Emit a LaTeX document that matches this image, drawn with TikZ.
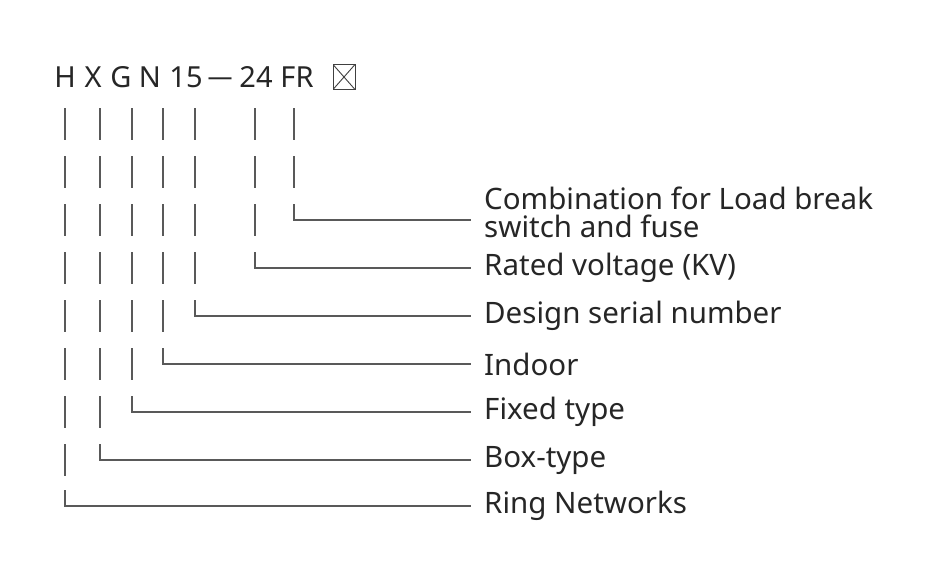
\documentclass[tikz,border=0pt]{standalone}
\usepackage{fontspec}
\setmainfont{Noto Sans}
\usetikzlibrary{positioning}

\begin{document}
\begin{tikzpicture}[x=1pt, y=-1pt,
    code/.style={font=\fontsize{29}{30}\selectfont, text=black!85, inner sep=0pt},
    tick/.style={draw=black!65, line width=1.1pt},
    lead/.style={draw=black!65, line width=1.1pt},
    meaning/.style={anchor=west, inner sep=0pt, font=\fontsize{29.5}{30}\selectfont, text=black!85, align=left}
]
\useasboundingbox (0,0) rectangle (928,581);

% model code
\node[code] (cH) at (65,77) {H};
\node[code] (cX) at (93,77) {X};
\node[code] (cG) at (121,77) {G};
\node[code] (cN) at (150,77) {N};
\node[code] (c15) at (186,77) {15};
\node[code] (cdash) at (220,82) {\fontsize{25}{25}\selectfont —};
\node[code] (c24) at (256,77) {24};
\node[code] (cFR) at (297,77) {FR};
\node[draw=black!75, line width=1pt, minimum width=22pt, minimum height=25pt, inner sep=0pt,
      path picture={\draw[black!75, line width=0.9pt] (path picture bounding box.north west) -- (path picture bounding box.south east)
                    (path picture bounding box.north east) -- (path picture bounding box.south west);}] (cbox) at (344,77) {};

% meanings
\node[meaning] (mFR) at (484,212) {Combination for Load break\\[-2pt]switch and fuse};
\node[meaning] (m24) at (484,268) {Rated voltage (KV)};
\node[meaning] (m15) at (484,316) {Design serial number};
\node[meaning] (mN) at (484,364) {Indoor};
\node[meaning] (mG) at (484,412) {Fixed type};
\node[meaning] (mX) at (484,460) {Box-type};
\node[meaning] (mH) at (484,506) {Ring Networks};

\coordinate (eFR) at (471,220);
\coordinate (e24) at (471,268);
\coordinate (e15) at (471,316);
\coordinate (eN) at (471,364);
\coordinate (eG) at (471,412);
\coordinate (eX) at (471,460);
\coordinate (eH) at (471,506);

% broken guide bars
\foreach \x/\n in {294/2, 255/3, 195/4, 163/5, 132/6, 100/7, 65/8} {
  \pgfmathtruncatemacro{\last}{\n-1}
  \foreach \k in {0,...,\last}
    \draw[tick] (\x,108+48*\k) -- (\x,140+48*\k);
}

% leaders
\draw[lead] (294,204) |- (eFR);
\draw[lead] (255,252) |- (e24);
\draw[lead] (195,300) |- (e15);
\draw[lead] (163,348) |- (eN);
\draw[lead] (132,396) |- (eG);
\draw[lead] (100,444) |- (eX);
\draw[lead] (65,490) |- (eH);

\end{tikzpicture}
\end{document}
